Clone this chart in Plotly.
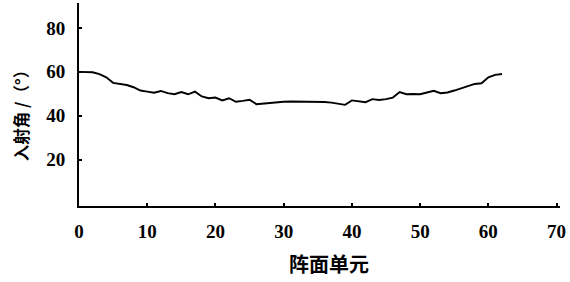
import plotly.graph_objects as go

units = list(range(0, 63))
angles = [60, 60, 59.8, 59, 57.5, 55, 54.5, 54, 53, 51.5,
          51, 50.5, 51.3, 50.3, 49.8, 50.8, 49.8, 51, 48.8, 48,
          48.3, 47, 48, 46.4, 46.8, 47.3, 45.3, 45.6, 46, 46.2,
          46.4, 46.5, 46.5, 46.5, 46.5, 46.4, 46.3, 46, 45.5, 45,
          47, 46.5, 46.2, 47.6, 47.2, 47.6, 48.3, 50.8, 49.8, 49.9,
          49.8, 50.6, 51.4, 50.3, 50.6, 51.5, 52.5, 53.8, 54.5, 54.8,
          57.5, 58.6, 59]
xticks = [0, 10, 20, 30, 40, 50, 60, 70]
yticks = [20, 40, 60, 80]

fig = go.Figure()
fig.add_trace(go.Scatter(x=units, y=angles, mode="lines",
                         line=dict(color="black", width=1.9), showlegend=False))

tickfont = dict(family="Liberation Serif, Times New Roman, serif", size=19,
                color="black", weight="bold")
fig.update_layout(
    width=570, height=282,
    margin=dict(l=79, r=10, t=3, b=76),
    plot_bgcolor="white", paper_bgcolor="white",
    xaxis=dict(range=[0, 70.5], tickvals=xticks, ticks="inside", ticklen=3,
               tickwidth=1.5, tickcolor="black", showline=True, linecolor="black",
               linewidth=2, showgrid=False, zeroline=False,
               tickfont=tickfont, ticklabelstandoff=7),
    yaxis=dict(range=[-1, 91.3], tickvals=yticks, ticks="inside", ticklen=3,
               tickwidth=1.5, tickcolor="black", showline=True, linecolor="black",
               linewidth=2, showgrid=False, zeroline=False,
               tickfont=tickfont, ticklabelstandoff=8),
    annotations=[
        dict(text="<b>阵面单元</b>", xref="paper", yref="paper", x=0.52, y=-0.281,
             showarrow=False, xanchor="center", yanchor="middle",
             font=dict(family="Noto Sans CJK SC", size=20, color="black")),
        dict(text="<b>入射角 /（°）</b>", xref="paper", yref="paper", x=-0.119, y=0.466,
             showarrow=False, textangle=-90, xanchor="center", yanchor="middle",
             font=dict(family="Noto Sans CJK SC", size=16.5, color="black")),
    ],
)
fig.write_html("out.html", config={"displayModeBar": False},
               post_script="document.body.style.margin='0';document.body.style.overflow='hidden';")
